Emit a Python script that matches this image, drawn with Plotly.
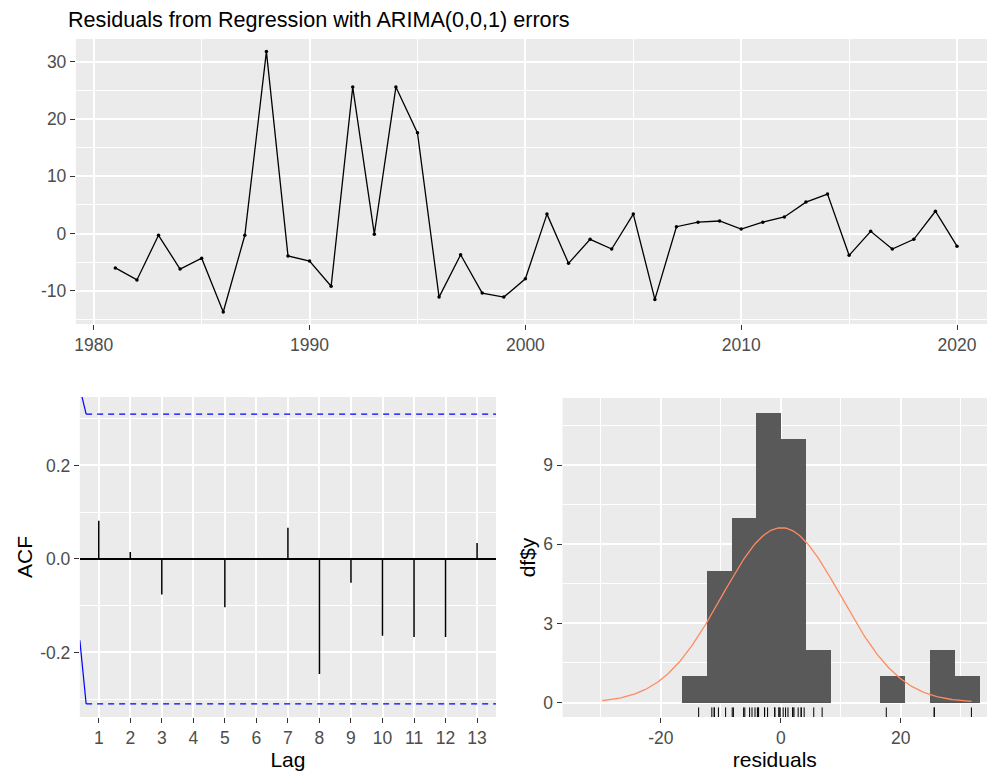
import numpy as np
import plotly.graph_objects as go

# ---------------- data ----------------
years = list(range(1981, 2021))
residuals = [-6.0, -8.1, -0.3, -6.2, -4.3, -13.7, -0.3, 31.8, -3.9, -4.8,
             -9.2, 25.6, -0.1, 25.6, 17.6, -11.1, -3.7, -10.4, -11.1, -7.9,
             3.4, -5.2, -1.0, -2.7, 3.4, -11.5, 1.2, 2.0, 2.2, 0.8,
             2.0, 2.9, 5.5, 6.9, -3.8, 0.4, -2.7, -1.0, 3.9, -2.2]

lags = list(range(1, 14))
acf_vals = [0.082, 0.015, -0.076, 0.001, -0.103, -0.002, 0.067,
            -0.246, -0.051, -0.164, -0.167, -0.167, 0.034]
ci_bound = 0.31
# visible ends of the confidence lines near lag 0
ci_upper_lead_x = [0.40, 0.60]
ci_upper_lead_y = [0.366, 0.31]
ci_lower_lead_x = [0.40, 0.60]
ci_lower_lead_y = [-0.174, -0.31]
ci_dash_x = [0.60, 14.0]

bin_start = -16.55
bin_size = 4.1375
bin_end = 33.1

top_xticks = [1980, 1990, 2000, 2010, 2020]
top_xtext = ["1980", "1990", "2000", "2010", "2020"]
top_yticks = [-10, 0, 10, 20, 30]
top_ytext = ["-10", "0", "10", "20", "30"]
acf_yticks = [-0.2, 0.0, 0.2]
acf_ytext = ["-0.2", "0.0", "0.2"]
hist_xticks = [-20, 0, 20]
hist_xtext = ["-20", "0", "20"]
hist_yticks = [0, 3, 6, 9]
hist_ytext = ["0", "3", "6", "9"]

# ---------------- figure ----------------
W, H = 987, 774
FONT = "Liberation Sans, Arial, sans-serif"
PANEL = "#EBEBEB"
TICKC = "#4D4D4D"
TICKSIZE = 17.5
TITLESIZE = 21

fig = go.Figure()

# Top: residual time series
fig.add_trace(go.Scatter(x=years, y=residuals, mode="lines+markers",
                         line=dict(color="black", width=1.3),
                         marker=dict(color="black", size=3.5),
                         xaxis="x", yaxis="y", showlegend=False))

# ACF
seg_x, seg_y = [], []
for l, v in zip(lags, acf_vals):
    seg_x += [l, l, None]
    seg_y += [0, v, None]
fig.add_trace(go.Scatter(x=seg_x, y=seg_y, mode="lines",
                         line=dict(color="black", width=1.5),
                         xaxis="x2", yaxis="y2", showlegend=False))
for yy in (ci_bound, -ci_bound):
    fig.add_trace(go.Scatter(x=ci_dash_x, y=[yy, yy], mode="lines",
                             line=dict(color="blue", width=1.2, dash="6px,5px"),
                             xaxis="x2", yaxis="y2", showlegend=False))
fig.add_trace(go.Scatter(x=ci_upper_lead_x, y=ci_upper_lead_y, mode="lines",
                         line=dict(color="blue", width=1.2),
                         xaxis="x2", yaxis="y2", showlegend=False))
fig.add_trace(go.Scatter(x=ci_lower_lead_x, y=ci_lower_lead_y, mode="lines",
                         line=dict(color="blue", width=1.2),
                         xaxis="x2", yaxis="y2", showlegend=False))

# Histogram
fig.add_trace(go.Histogram(x=residuals,
                           xbins=dict(start=bin_start, end=bin_end, size=bin_size),
                           marker=dict(color="#595959", line=dict(width=0)),
                           xaxis="x3", yaxis="y3", showlegend=False))

res = np.array(residuals)
mu, sd = res.mean(), res.std(ddof=1)
xs = np.linspace(min(mu - 3 * sd, res.min()), max(mu + 3 * sd, res.max()), 300)
dens = len(res) * bin_size * np.exp(-0.5 * ((xs - mu) / sd) ** 2) / (sd * np.sqrt(2 * np.pi))
fig.add_trace(go.Scatter(x=xs, y=dens, mode="lines",
                         line=dict(color="#FF8A62", width=1.3),
                         xaxis="x3", yaxis="y3", showlegend=False))

hist_yrange = [-0.55, 11.55]
rug_len = 0.03 * (hist_yrange[1] - hist_yrange[0])
rx, ry = [], []
for v in residuals:
    rx += [v, v, None]
    ry += [hist_yrange[0], hist_yrange[0] + rug_len, None]
fig.add_trace(go.Scatter(x=rx, y=ry, mode="lines",
                         line=dict(color="black", width=1),
                         xaxis="x3", yaxis="y3", showlegend=False))


def ax(**kw):
    base = dict(showline=False, zeroline=False, showgrid=True,
                gridcolor="white", gridwidth=1.6,
                ticks="outside", ticklen=5, tickwidth=1, tickcolor="#333333",
                tickfont=dict(family=FONT, size=TICKSIZE, color=TICKC),
                tickmode="array", fixedrange=True)
    base.update(kw)
    return base


minor = lambda d, t0: dict(dtick=d, tick0=t0, showgrid=True, gridcolor="white",
                           gridwidth=0.8, ticklen=0)

top_dom_y = [1 - 324 / H, 1 - 39 / H]
bot_dom_y = [1 - 717 / H, 1 - 397 / H]
axtitle_font = dict(family=FONT, size=TITLESIZE, color="black")

fig.update_layout(
    width=W, height=H, margin=dict(l=0, r=0, t=0, b=0),
    paper_bgcolor="white", plot_bgcolor=PANEL, bargap=0,
    font=dict(family=FONT, color="black"),
    title=dict(text="Residuals from Regression with ARIMA(0,0,1) errors",
               x=68 / W, xanchor="left", y=1 - 19 / H, yanchor="middle",
               font=dict(family=FONT, size=21.6, color="black")),
    xaxis=ax(domain=[74 / W, 1], range=[1979.17, 2021.39], anchor="y",
             tickvals=top_xticks, ticktext=top_xtext, minor=minor(5, 1980)),
    yaxis=ax(domain=top_dom_y, range=[-15.8, 34.0], anchor="x",
             tickvals=top_yticks, ticktext=top_ytext, minor=minor(10, 5)),
    xaxis2=ax(domain=[78 / W, 495 / W], range=[0.4, 13.6], anchor="y2",
              tickvals=lags, ticktext=[str(l) for l in lags],
              title=dict(text="Lag", font=axtitle_font, standoff=2)),
    yaxis2=ax(domain=bot_dom_y, range=[-0.338, 0.3465], anchor="x2",
              tickvals=acf_yticks, ticktext=acf_ytext, minor=minor(0.2, 0.1),
              zeroline=True, zerolinecolor="black", zerolinewidth=1.5,
              title=dict(text="ACF", font=axtitle_font, standoff=1)),
    xaxis3=ax(domain=[561.7 / W, 1], range=[-36.4, 34.4], anchor="y3",
              tickvals=hist_xticks, ticktext=hist_xtext, minor=minor(20, -30),
              title=dict(text="residuals", font=axtitle_font, standoff=2)),
    yaxis3=ax(domain=[1 - 717 / H, 1 - 398 / H], range=hist_yrange, anchor="x3",
              tickvals=hist_yticks, ticktext=hist_ytext, minor=minor(3, 1.5),
              title=dict(text="df$y", font=axtitle_font, standoff=1)),
)

fig.write_html("out.html")
